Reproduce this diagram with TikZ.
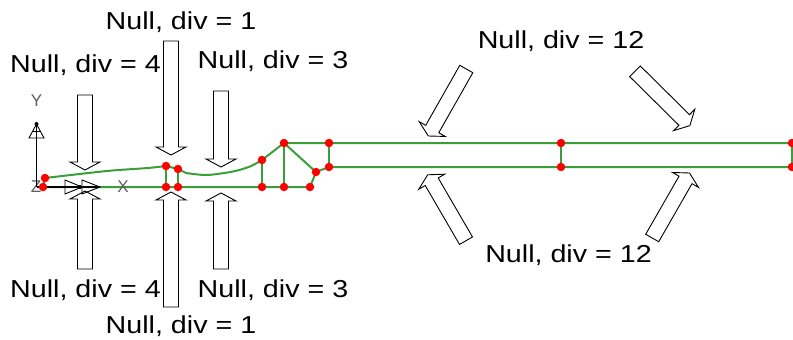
\documentclass[tikz,border=0pt]{standalone}
\usepackage{fontspec}
\setmainfont{Liberation Sans}
\usetikzlibrary{calc}

\definecolor{meshgreen}{RGB}{58,158,58}
\definecolor{axisgrey}{RGB}{95,95,95}

\newcommand\nulldiv[1]{\scalebox{1.17}[1]{Null, div = #1}}
% hollow block arrow from tail coordinate #1 to tip coordinate #2
\newcommand\hollowarrow[2]{%
  \coordinate (#1-base) at ($(#2)!8pt!(#1)$);
  \draw[blockarrow] ($(#1)!7.5pt!90:(#2)$) -- ($(#1-base)!7.5pt!90:(#2)$)
    -- ($(#1-base)!15pt!90:(#2)$) -- (#2) -- ($(#1-base)!15pt!-90:(#2)$)
    -- ($(#1-base)!7.5pt!-90:(#2)$) -- ($(#1)!7.5pt!-90:(#2)$) -- cycle;}

\tikzset{
  mesh/.style={meshgreen, line width=2pt},
  vertex/.style={circle, fill=red, inner sep=0pt, minimum size=8.5pt},
  blockarrow/.style={draw=black, line width=0.9pt},
  divlabel/.style={font=\fontsize{24.5}{24.5}\selectfont, anchor=base, inner sep=0pt},
  axislabel/.style={font=\fontsize{17}{17}\selectfont, text=axisgrey, inner sep=0pt},
}

\begin{document}
\begin{tikzpicture}[x=1pt, y=-1pt]
\useasboundingbox (0,0) rectangle (793,340);

% mesh points
\coordinate (a1) at (45,178);  \coordinate (a0) at (43,187);
\coordinate (b1) at (166,166); \coordinate (b0) at (166,187);
\coordinate (c1) at (178,169); \coordinate (c0) at (178,187);
\coordinate (d1) at (262,160); \coordinate (d0) at (262,187);
\coordinate (e1) at (284,143); \coordinate (e0) at (284,187);
\coordinate (f1) at (316,172); \coordinate (f0) at (310,187);
\coordinate (g2) at (329,143); \coordinate (g1) at (329,167);
\coordinate (h2) at (561,143); \coordinate (h1) at (561,167);
\coordinate (k2) at (792,143); \coordinate (k1) at (792,167);

% mesh lines
\draw[mesh] (a0) -- (b0) -- (c0) -- (d0) -- (e0) -- (f0) -- (f1);
\draw[mesh] plot[smooth] coordinates {(a1) (107,171) (148,168) (b1)};
\draw[mesh] (b1) -- (c1) -- (186,173);
\draw[mesh] plot[smooth] coordinates {(186,173) (207,175) (233,171.5) (250,166.5) (d1)};
\draw[mesh] (d1) -- (e1) -- (g2) -- (h2) -- (k2);
\draw[mesh] (e1) -- (f1) -- (g1) -- (h1) -- (k1);
\draw[mesh] (a1) -- (a0);
\draw[mesh] (b1) -- (b0);
\draw[mesh] (c1) -- (c0);
\draw[mesh] (d1) -- (d0);
\draw[mesh] (e1) -- (e0);
\draw[mesh] (g2) -- (g1);
\draw[mesh] (h2) -- (h1);
\draw[mesh] (k2) -- (k1);

% axis icon
\node[axislabel] (ylab) at (36.5,101) {Y};
\node[axislabel] (xlab) at (123,187) {X};
\node[axislabel] (zlab) at (36,187) {Z};
\draw[line width=1.2pt] (36.5,187) -- (36.5,124);
\draw[line width=0.9pt] (29,138) -- (36.5,124) -- (44,138) -- cycle;
\draw[line width=0.9pt] (32,131) -- (41,131);
\fill (36.5,124) circle (2pt);
\draw[line width=1.2pt] (36.5,187) -- (100,187);
\draw[line width=0.9pt] (65,180) -- (82,187) -- (65,194) -- cycle;
\draw[line width=0.9pt] (82,180) -- (100,187) -- (82,194) -- cycle;
\fill (80,187) circle (2pt);

% nodes
\foreach \p in {a1,a0,b1,b0,c1,c0,d1,d0,e1,e0,f1,f0,g2,g1,h2,h1,k2,k1}
  \node[vertex] at (\p) {};

% arrows
\coordinate (t4) at (85,95);    \coordinate (t4tip) at (85,170);
\coordinate (t1) at (171,41);   \coordinate (t1tip) at (171,155);
\coordinate (t3) at (221,91);   \coordinate (t3tip) at (221,167);
\coordinate (u4) at (85,269);   \coordinate (u4tip) at (85,191);
\coordinate (u1) at (171,307);  \coordinate (u1tip) at (171,192);
\coordinate (u3) at (221,269);  \coordinate (u3tip) at (221,193);
\coordinate (r1) at (466.3,69); \coordinate (r1tip) at (428.3,136);
\coordinate (r2) at (635,71.3); \coordinate (r2tip) at (689.9,125.6);
\coordinate (r3) at (466,240.7);\coordinate (r3tip) at (427.7,174.8);
\coordinate (r4) at (652.2,238);\coordinate (r4tip) at (689.5,173);
\foreach \a in {t4,t1,t3,u4,u1,u3,r1,r2,r3,r4}{
  \hollowarrow{\a}{\a tip}
}

% labels
\node[divlabel] (lt1) at (181,29) {\nulldiv{1}};
\node[divlabel] (lt4) at (85.5,72) {\nulldiv{4}};
\node[divlabel] (lt3) at (273,68) {\nulldiv{3}};
\node[divlabel] (lb4) at (85.5,297) {\nulldiv{4}};
\node[divlabel] (lb3) at (273,297) {\nulldiv{3}};
\node[divlabel] (lb1) at (181,333) {\nulldiv{1}};
\node[divlabel] (lr1) at (561,48.3) {\nulldiv{12}};
\node[divlabel] (lr2) at (568.5,262) {\nulldiv{12}};
\end{tikzpicture}
\end{document}
